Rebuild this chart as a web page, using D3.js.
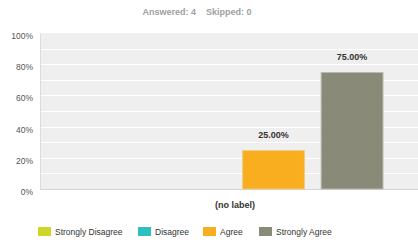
<!DOCTYPE html>
<html>
<head>
<meta charset="utf-8">
<script src="https://cdn.jsdelivr.net/npm/d3@7"></script>
<style>
  html, body { margin: 0; padding: 0; background: #fff; }
  svg text { font-family: Arial, "Liberation Sans", sans-serif; }
</style>
</head>
<body>
<div id="chart"></div>
<script>
let categories = ["Strongly Disagree", "Disagree", "Agree", "Strongly Agree"];
let values = [0, 0, 25, 75];
let colors = ["#cfd62a", "#2ebfbf", "#f8ae1e", "#898a78"];
let yTicks = [0, 20, 40, 60, 80, 100];
let answered = 4;
let skipped = 0;
let groupLabel = "(no label)";

let chart_width = 418;
let chart_height = 240;

let plot_left = 40;
let plot_right = 418;
let plot_top = 33;
let plot_bottom = 189;

let svg = d3.select("#chart")
    .append("svg")
    .attr("width", chart_width)
    .attr("height", chart_height);

// header
let header = svg.append("text")
    .attr("x", 197)
    .attr("y", 15)
    .attr("text-anchor", "middle")
    .attr("font-size", "9px")
    .attr("font-weight", "bold")
    .attr("fill", "#a0a0a0");
header.append("tspan").text("Answered: " + answered);
header.append("tspan").attr("dx", 10).text("Skipped: " + skipped);

let yScale = d3.scaleLinear()
    .domain([0, 100])
    .range([plot_bottom, plot_top]);

let xScale = d3.scaleBand()
    .domain(categories)
    .range([85, 383.5])
    .paddingInner(0.2);

// background
svg.append("rect")
    .attr("x", plot_left)
    .attr("y", plot_top)
    .attr("width", plot_right - plot_left)
    .attr("height", plot_bottom - plot_top)
    .attr("fill", "#efefef");

// gridlines every 10%
svg.append("g")
    .selectAll("line")
    .data(d3.range(10, 100, 10))
    .enter()
    .append("line")
    .attr("x1", plot_left)
    .attr("x2", plot_right)
    .attr("y1", d => Math.round(yScale(d)) + 0.5)
    .attr("y2", d => Math.round(yScale(d)) + 0.5)
    .attr("stroke", "#ffffff")
    .attr("stroke-width", 1);

// y axis
let y_axis = svg.append("g")
    .attr("transform", "translate(" + plot_left + ",0)")
    .call(d3.axisLeft(yScale).tickValues(yTicks).tickSize(0).tickPadding(7).tickFormat(d => d + "%"));
y_axis.select(".domain").attr("stroke", "#dcdcdc");
y_axis.selectAll("text")
    .attr("font-size", "8.5px")
    .attr("font-family", "Arial, 'Liberation Sans', sans-serif")
    .attr("fill", "#555")
    .attr("dy", "0.65em");

// baseline
svg.append("line")
    .attr("x1", plot_left)
    .attr("x2", plot_right)
    .attr("y1", plot_bottom + 0.5)
    .attr("y2", plot_bottom + 0.5)
    .attr("stroke", "#d4d4d4");

// bars
let bars = categories.map((c, i) => ({ cat: c, value: values[i], color: colors[i] }));

svg.append("g")
    .selectAll("rect")
    .data(bars.filter(d => d.value > 0))
    .enter()
    .append("rect")
    .attr("x", d => xScale(d.cat) + 0.5)
    .attr("y", d => yScale(d.value) + 0.5)
    .attr("width", xScale.bandwidth() - 1)
    .attr("height", d => plot_bottom - yScale(d.value) - 0.5)
    .attr("fill", d => d.color)
    .attr("stroke", d => d3.interpolateRgb(d.color, "#e8e8e8")(0.5))
    .attr("stroke-width", 1);

svg.append("g")
    .selectAll("text")
    .data(bars.filter(d => d.value > 0))
    .enter()
    .append("text")
    .attr("x", d => xScale(d.cat) + xScale.bandwidth() / 2)
    .attr("y", d => yScale(d.value) - 12)
    .attr("text-anchor", "middle")
    .attr("font-size", "9px")
    .attr("font-weight", "bold")
    .attr("fill", "#333")
    .text(d => d.value.toFixed(2) + "%");

// category label
svg.append("text")
    .attr("x", 235)
    .attr("y", 208)
    .attr("text-anchor", "middle")
    .attr("font-size", "9px")
    .attr("font-weight", "bold")
    .attr("fill", "#333")
    .text(groupLabel);

// legend
let legend_x = [38, 138, 203, 259];
let legend = svg.append("g")
    .selectAll("g")
    .data(bars)
    .enter()
    .append("g")
    .attr("transform", (d, i) => "translate(" + legend_x[i] + ",227)");

legend.append("rect")
    .attr("width", 13)
    .attr("height", 9)
    .attr("fill", d => d.color);

legend.append("text")
    .attr("x", 17)
    .attr("y", 8)
    .attr("font-size", "8.5px")
    .attr("fill", "#333")
    .text(d => d.cat);
</script>
</body>
</html>
